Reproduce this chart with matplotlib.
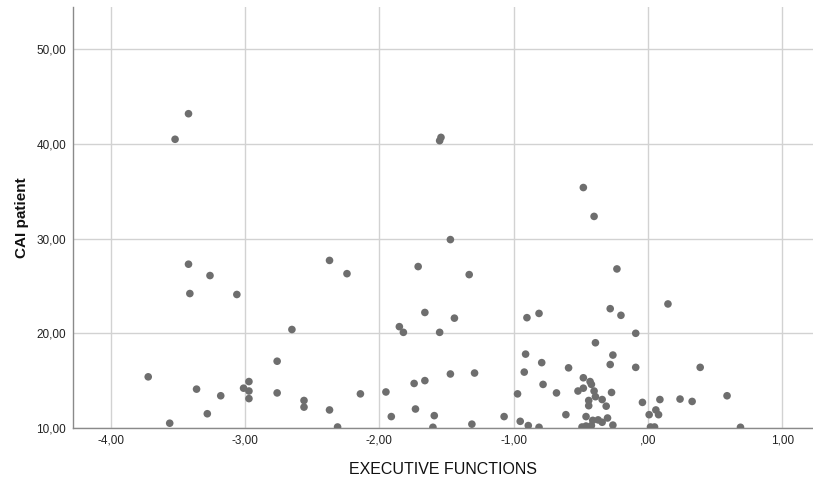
import matplotlib
matplotlib.use("Agg")
import matplotlib.pyplot as plt
from matplotlib.ticker import FuncFormatter

# EXECUTIVE FUNCTIONS score per patient
exec_functions = [
    -3.42, -3.52, -3.42, -3.26, -3.41, -3.06, -2.37, -2.24, -2.65, -2.76,
    -3.72, -3.36, -3.18, -3.01, -2.97, -2.97, -2.97, -2.76, -2.56, -2.56,
    -2.37, -3.28, -3.56, -2.31,
    -1.55, -1.54, -1.47, -1.71, -1.33, -1.66, -1.44, -1.85, -1.82, -1.55,
    -0.90, -0.81, -0.91, -0.79, -0.92, -0.78, -0.68, -0.97, -1.47, -1.29,
    -1.74, -1.66, -2.14, -1.95, -1.91, -1.73, -1.59, -1.60, -1.31, -1.07,
    -0.95, -0.89, -0.81,
    -0.48, -0.40, -0.23, 0.15, -0.28, -0.20, -0.09, -0.39, -0.26, -0.28,
    -0.09, 0.39, -0.59, -0.48, -0.43, -0.42, -0.52, -0.48, -0.40, -0.39,
    -0.34, -0.44, -0.44, -0.31, -0.27, -0.04, 0.09, 0.24, 0.33, 0.59,
    0.06, 0.08, 0.01, -0.61, -0.46, -0.41, -0.37, -0.34, -0.30, -0.26,
    -0.49, -0.46, -0.42, 0.02, 0.05, 0.69,
]

# CAI patient score
cai_patient = [
    43.2, 40.5, 27.3, 26.1, 24.2, 24.1, 27.7, 26.3, 20.4, 17.05,
    15.4, 14.1, 13.4, 14.2, 14.9, 13.9, 13.1, 13.7, 12.9, 12.2,
    11.9, 11.5, 10.5, 10.1,
    40.35, 40.7, 29.9, 27.05, 26.2, 22.2, 21.6, 20.7, 20.1, 20.1,
    21.65, 22.1, 17.8, 16.9, 15.9, 14.6, 13.7, 13.6, 15.7, 15.8,
    14.7, 15.0, 13.6, 13.8, 11.2, 12.0, 11.3, 10.07, 10.4, 11.2,
    10.7, 10.25, 10.07,
    35.4, 32.35, 26.8, 23.1, 22.6, 21.9, 20.0, 19.0, 17.7, 16.7,
    16.4, 16.4, 16.35, 15.3, 14.9, 14.6, 13.9, 14.2, 13.9, 13.3,
    13.0, 12.9, 12.35, 12.3, 13.75, 12.7, 13.0, 13.05, 12.8, 13.4,
    11.9, 11.4, 11.4, 11.4, 11.2, 10.8, 10.85, 10.6, 11.05, 10.3,
    10.1, 10.2, 10.25, 10.1, 10.1, 10.07,
]

x_ticks = [-4, -3, -2, -1, 0, 1]
y_ticks = [10, 20, 30, 40, 50]

plt.rcParams['font.family'] = ['Liberation Sans', 'DejaVu Sans']


def spss_fmt(v, pos):
    # SPSS style: comma decimals, no leading zero for 0
    s = f"{v:.2f}".replace(".", ",")
    if s.startswith("0,"):
        s = s[1:]
    elif s.startswith("-0,"):
        s = s[2:]
    return s


fig = plt.figure(figsize=(8.13, 4.83), dpi=100)
ax = fig.add_axes([0.0898, 0.114, 0.9102, 0.872])

ax.scatter(exec_functions, cai_patient, s=30, color='#6e6e6e',
           edgecolors='none', zorder=3, clip_on=True)

ax.set_xlim(-4.28, 1.23)
ax.set_ylim(10, 54.5)
ax.set_xticks(x_ticks)
ax.set_yticks(y_ticks)
ax.xaxis.set_major_formatter(FuncFormatter(spss_fmt))
ax.yaxis.set_major_formatter(FuncFormatter(spss_fmt))
ax.tick_params(axis='both', length=0, labelsize=8.5, colors='#222222', pad=5)

ax.grid(True, color='#d2d2d2', linewidth=1.0, zorder=0)
ax.set_axisbelow(True)

for side in ['top', 'right']:
    ax.spines[side].set_visible(False)
for side in ['left', 'bottom']:
    ax.spines[side].set_color('#8a8a8a')
    ax.spines[side].set_linewidth(1.0)

ax.set_xlabel('EXECUTIVE FUNCTIONS', fontsize=11.5, color='#111111', labelpad=11)
ax.set_ylabel('CAI patient', fontsize=11, fontweight='bold', color='#111111', labelpad=5.5)

fig.savefig('out.png', dpi=100)
